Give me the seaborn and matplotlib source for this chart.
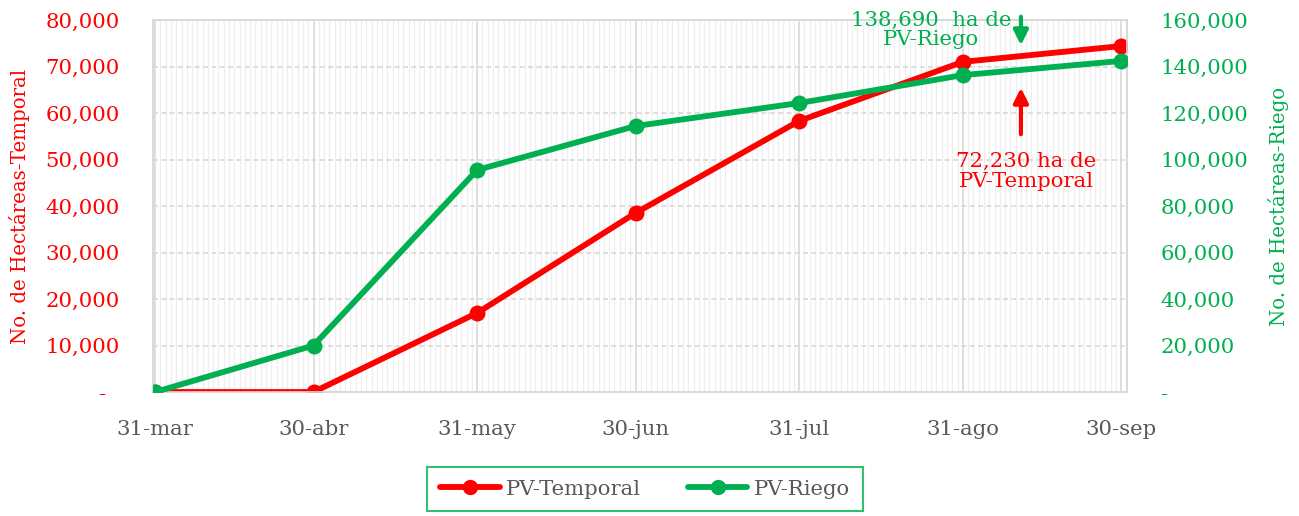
import pandas as pd
import numpy as np
import seaborn as sns
import matplotlib.pyplot as plt
import matplotlib.dates as mdates
from matplotlib.ticker import FuncFormatter, MultipleLocator
from matplotlib.lines import Line2D

fechas = ["2023-03-31", "2023-04-30", "2023-05-31", "2023-06-30",
          "2023-07-31", "2023-08-31", "2023-09-30"]
etiquetas = ["31-mar", "30-abr", "31-may", "30-jun", "31-jul", "31-ago", "30-sep"]
temporal = [0, 0, 17000, 38500, 58300, 71000, 74400]
riego = [0, 20000, 95500, 114400, 124300, 136300, 142400]

ROJO = "#FF0000"
VERDE = "#00B050"
GRIS = "#595959"
FS = 15.3

df = pd.DataFrame({"fecha": pd.to_datetime(fechas), "temporal": temporal, "riego": riego})

sns.set_style("white")
plt.rcParams["font.family"] = ["DejaVu Serif"]

fig = plt.figure(figsize=(12.99, 5.16), dpi=100)
ax = fig.add_axes([0.1178, 0.2403, 0.7498, 0.7209])
ax2 = ax.twinx()

sns.lineplot(data=df, x="fecha", y="temporal", ax=ax, color=ROJO, lw=4.2,
             marker="o", markersize=11.5, markeredgewidth=0, zorder=3)
sns.lineplot(data=df, x="fecha", y="riego", ax=ax2, color=VERDE, lw=4.2,
             marker="o", markersize=11.5, markeredgewidth=0, zorder=3)

ax.set_ylim(0, 80000)
ax2.set_ylim(0, 160000)
ax.set_xlim(df["fecha"].iloc[0] - pd.Timedelta(days=0.4),
            df["fecha"].iloc[-1] + pd.Timedelta(days=1.1))

ax.yaxis.set_major_locator(MultipleLocator(10000))
ax2.yaxis.set_major_locator(MultipleLocator(20000))
ax.yaxis.set_major_formatter(FuncFormatter(lambda v, p: "-  " if v == 0 else f"{v:,.0f}"))
ax2.yaxis.set_major_formatter(FuncFormatter(lambda v, p: "-" if v == 0 else f"{v:,.0f}"))

ax.set_xticks(df["fecha"])
ax.set_xticklabels(etiquetas)
ax.xaxis.set_minor_locator(mdates.DayLocator())

ax.tick_params(axis="y", length=0, pad=24, labelsize=FS, labelcolor=ROJO)
ax2.tick_params(axis="y", length=0, pad=24, labelsize=FS, labelcolor=VERDE)
ax.tick_params(axis="x", which="major", length=8, width=1, color="#D9D9D9",
               pad=12, labelsize=FS, labelcolor=GRIS)
ax.tick_params(axis="x", which="minor", length=0)

ax.grid(axis="x", which="minor", color="#EEEEEE", lw=0.9)
ax.grid(axis="x", which="major", color="#D9D9D9", lw=1.2)
ax.grid(axis="y", which="major", color="#D9D9D9", lw=1.2, ls=(0, (3, 2)))
ax.set_axisbelow(True)

for a in (ax, ax2):
    for s in a.spines.values():
        s.set_color("#D9D9D9")
        s.set_linewidth(1.2)

ax.set_xlabel("")
ax.set_ylabel("No. de Hectáreas-Temporal", color=ROJO, fontsize=14.2)
ax2.set_ylabel("No. de Hectáreas-Riego", color=VERDE, fontsize=14.2)
ax.yaxis.set_label_coords(-0.126, 0.5)
ax2.yaxis.set_label_coords(1.145, 0.5)

# anotaciones
x_flecha = pd.Timestamp("2023-09-11")
ax2.annotate("", xy=(x_flecha, 73980 * 2), xytext=(x_flecha, 81300 * 2),
             arrowprops=dict(arrowstyle="-|>", color=VERDE, lw=3, mutation_scale=22),
             annotation_clip=False)
ax2.annotate("", xy=(x_flecha, 66020 * 2), xytext=(x_flecha, 54840 * 2),
             arrowprops=dict(arrowstyle="-|>", color=ROJO, lw=3, mutation_scale=22))
ax2.text(pd.Timestamp("2023-08-25"), 77850 * 2, "138,690  ha de\nPV-Riego", color=VERDE,
         fontsize=FS, ha="center", va="center", linespacing=1.05)
ax2.text(pd.Timestamp("2023-09-12"), 47500 * 2, "72,230 ha de\nPV-Temporal", color=ROJO,
         fontsize=FS, ha="center", va="center", linespacing=1.05)

handles = [Line2D([], [], color=ROJO, lw=4.2, marker="o", markersize=10),
           Line2D([], [], color=VERDE, lw=4.2, marker="o", markersize=10)]
leg = fig.legend(handles, ["PV-Temporal", "PV-Riego"], loc="center",
                 bbox_to_anchor=(0.4966, 0.052), ncol=2, frameon=True, fancybox=False,
                 fontsize=FS, handlelength=2.8, columnspacing=2.2, borderpad=0.6,
                 labelcolor=GRIS, handletextpad=0.3, borderaxespad=0)
leg.get_frame().set_edgecolor(VERDE)
leg.get_frame().set_linewidth(1.5)

fig.savefig("out.png", dpi=100)
